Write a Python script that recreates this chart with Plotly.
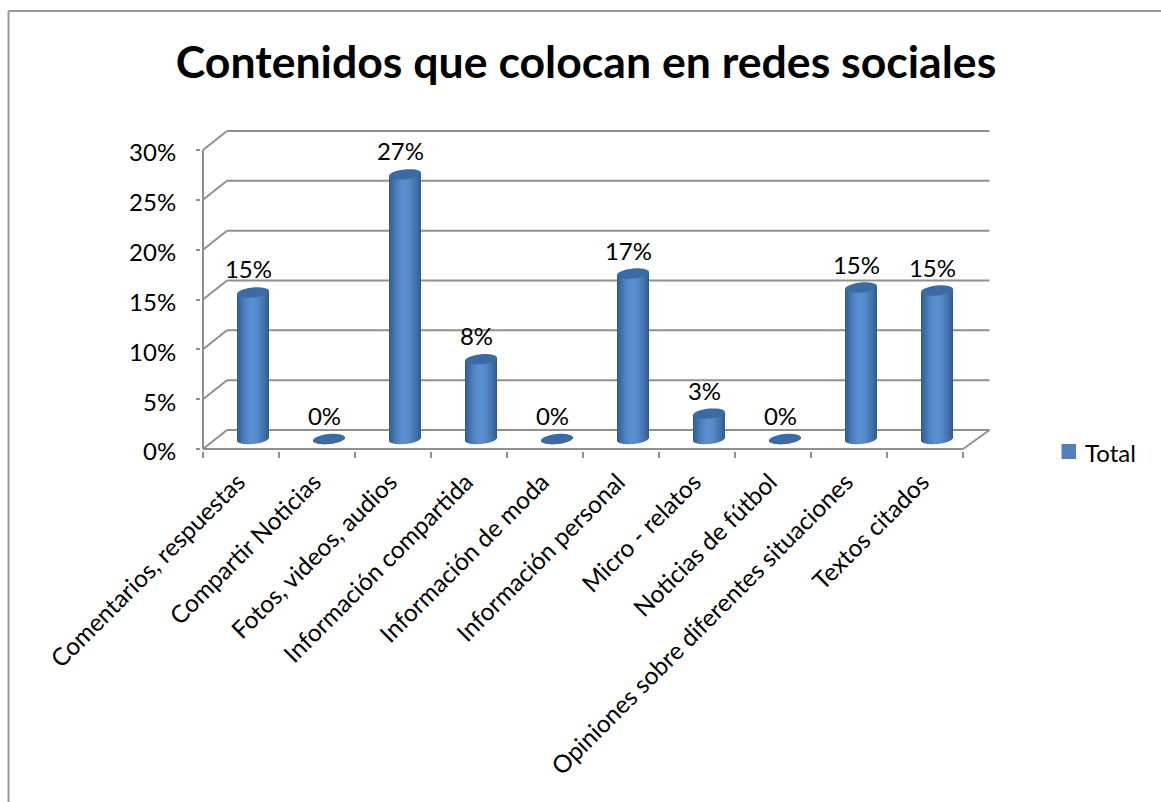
import math
import plotly.graph_objects as go

categories = [
    "Comentarios, respuestas", "Compartir Noticias", "Fotos, videos, audios",
    "Información compartida", "Información de moda", "Información personal",
    "Micro - relatos", "Noticias de fútbol",
    "Opiniones sobre diferentes situaciones", "Textos citados",
]
values = [0.147, 0.0, 0.2655, 0.080, 0.0, 0.166, 0.0255, 0.0, 0.152, 0.149]
y_ticks = [0, 0.05, 0.10, 0.15, 0.20, 0.25, 0.30]
series_name = "Total"
title_text = "Contenidos que colocan en redes sociales"

# Canvas and plot-area layout in pixels
W, H = 1161, 802
L, R, T, B = 201, 993, 128, 451
FONT = "Lato"
GRID = "#8f8f8f"

# Pixel scales of the front plane: one category is 76 px, 100% is 997 px
PX_X = 76.0
PX_Y = 299 / 0.30
x_range = [-0.5 - 2 / PX_X, -0.5 + (R - 203) / PX_X]
y_range = [-2 / PX_Y, (449 - T) / PX_Y]

# Oblique depth of the floor and side wall
DX = 24 / PX_X
DY = 19 / PX_Y
BACK_EXTRA = 2.5 / PX_X

# Cylinder geometry: centred halfway through the depth of the floor
CX_OFF = DX / 2
BASE = 10 / PX_Y
RX = 16 / PX_X
RY = 5 / PX_Y
TILT = 1.5 / PX_Y
N_STRIPS = 32


def paper_x(px):
    return (px - L) / (R - L)


def paper_y(py):
    return (B - py) / (B - T)


def lerp_hex(c0, c1, t):
    a = [int(c0[i:i + 2], 16) for i in (1, 3, 5)]
    b = [int(c1[i:i + 2], 16) for i in (1, 3, 5)]
    return "rgb(%d,%d,%d)" % tuple(round(p + (q - p) * t) for p, q in zip(a, b))


def strip_color(u):
    # Horizontal shading of the cylinder wall, brightest left of centre
    peak = -0.05
    if u < peak:
        t = (peak - u) / (1 + peak)
    else:
        t = (u - peak) / (1 - peak)
    t = t ** 1.7
    return lerp_hex("#5a8ed0", "#2d5a8e", t)


fig = go.Figure()

# Cylinder walls, one overlaid bar trace per shaded strip
xs = list(range(len(categories)))
for s in range(N_STRIPS):
    u0 = -1 + 2 * s / N_STRIPS
    u1 = -1 + 2 * (s + 1) / N_STRIPS
    u = (u0 + u1) / 2
    low = -RY * math.sqrt(max(0, 1 - u * u)) + TILT * u
    top = TILT * u
    fig.add_trace(go.Bar(
        x=xs,
        y=[v + top - low for v in values],
        base=[BASE + low] * len(values),
        width=(u1 - u0) * RX,
        offset=CX_OFF + u0 * RX,
        marker=dict(color=strip_color(u), line=dict(width=0)),
        showlegend=False,
        hoverinfo="skip",
    ))

# Percentage labels above each cylinder
fig.add_trace(go.Scatter(
    x=[i + CX_OFF - 4.5 / PX_X for i in xs],
    y=[BASE + v + 8 / PX_Y for v in values],
    mode="text",
    text=[f"{v:.0%}" for v in values],
    textposition="top center",
    textfont=dict(family=FONT, size=24, color="#000000"),
    showlegend=False,
    cliponaxis=False,
    hoverinfo="skip",
))

shapes = []


def line(x0, y0, x1, y1, width=2, layer="below"):
    shapes.append(dict(type="line", xref="x", yref="y", x0=x0, y0=y0, x1=x1, y1=y1,
                       line=dict(color=GRID, width=width), layer=layer))


X0 = -0.5
X1 = len(categories) - 0.5
for t in y_ticks:
    line(X0 + DX, t + DY, X1 + DX + BACK_EXTRA, t + DY)
    line(X0, t, X0 + DX, t + DY)
line(X0, 0, X0, y_ticks[-1])
line(X0, 0, X1, 0)
line(X1, 0, X1 + DX + BACK_EXTRA, DY)

# Elliptical cylinder caps, slightly tilted
for i, v in zip(xs, values):
    pts = []
    for k in range(36):
        a = 2 * math.pi * k / 36
        px = i + CX_OFF + RX * math.cos(a)
        py = BASE + v + RY * math.sin(a) + TILT * math.cos(a)
        pts.append(f"{px:.4f},{py:.5f}")
    shapes.append(dict(type="path", xref="x", yref="y",
                       path="M" + " L".join(pts) + " Z",
                       fillcolor="#3c6aa3", line=dict(width=0), layer="above"))

# Outer chart frame, running off the right and bottom edges
for x0, y0, x1, y1 in [(8.5, 11, 8.5, H), (8.5, 11, W, 11)]:
    shapes.append(dict(type="line", xref="paper", yref="paper",
                       x0=paper_x(x0), y0=paper_y(y0), x1=paper_x(x1), y1=paper_y(y1),
                       line=dict(color="#989898", width=2)))

# Legend key and name
shapes.append(dict(type="rect", xref="paper", yref="paper",
                   x0=paper_x(1061.5), x1=paper_x(1076), y0=paper_y(459), y1=paper_y(444),
                   fillcolor="#4f81bd", line=dict(width=0)))

fig.update_layout(
    width=W, height=H,
    margin=dict(l=L, r=W - R, t=T, b=H - B, autoexpand=False),
    paper_bgcolor="white", plot_bgcolor="white",
    barmode="overlay",
    shapes=shapes,
    annotations=[dict(text=series_name, xref="paper", yref="paper",
                      x=paper_x(1083), xanchor="left", y=paper_y(452), yanchor="middle",
                      showarrow=False, font=dict(family=FONT, size=24, color="#000000"))],
    title=dict(text=f"<b>{title_text}</b>", x=586 / W, xanchor="center",
               y=1 - 62 / H, yanchor="middle",
               font=dict(family=FONT, size=44.6, color="#000000")),
    xaxis=dict(
        range=x_range, showgrid=False, zeroline=False, showline=False,
        tickmode="array", tickvals=xs, ticktext=categories, tickangle=-45,
        ticks="", tickfont=dict(family=FONT, size=24.4, color="#000000"),
        ticklabelstandoff=11,
        ticklabelshift=-3,
        minor=dict(tickmode="array", tickvals=[i - 0.5 for i in range(len(categories) + 1)],
                   ticks="outside", ticklen=6, tickwidth=2, tickcolor=GRID, showgrid=False),
    ),
    yaxis=dict(
        range=y_range, showgrid=False, zeroline=False, showline=False,
        tickmode="array", tickvals=y_ticks, tickformat=".0%",
        ticks="outside", ticklen=4, tickwidth=2, tickcolor=GRID,
        ticklabelstandoff=15,
        ticklabelshift=3,
        tickfont=dict(family=FONT, size=24, color="#000000"),
    ),
    showlegend=False,
    font=dict(family=FONT),
)

fig.write_html("out.html")
